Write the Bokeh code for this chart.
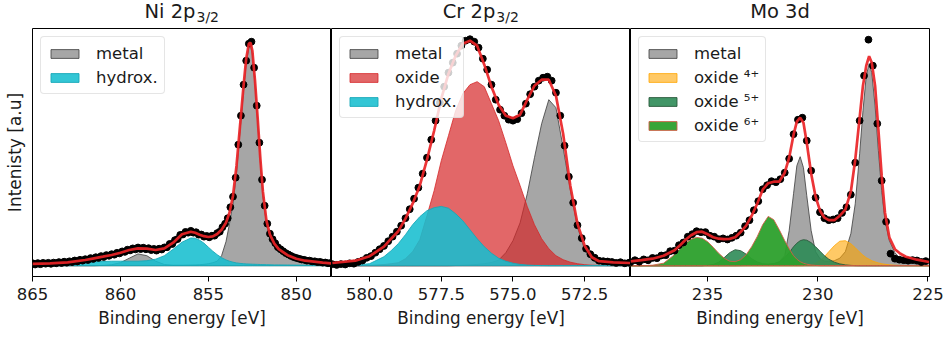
from bokeh.plotting import figure
from bokeh.layouts import row, column
from bokeh.models import (Range1d, FixedTicker, PrintfTickFormatter, Legend,
                          LegendItem, Label)
from bokeh.embed import file_html
from bokeh.resources import INLINE

FONT = "DejaVu Sans"

# ---------------- Ni 2p3/2 ----------------
ni_ticks = [865, 860, 855, 850]
ni_be = [865, 864, 863, 862, 861.5, 861, 860.5, 860, 859.5, 859, 858.5, 858,
         857.5, 857, 856.5, 856, 855.75, 855.5, 855.25, 855, 854.75, 854.5,
         854.25, 854, 853.8, 853.6, 853.4, 853.2, 853, 852.85, 852.7, 852.6,
         852.5, 852.35, 852.2, 852.05, 851.9, 851.7, 851.5, 851.25, 851,
         850.5, 850, 849.5, 849, 848.5, 848]
ni_metal = [0, 0, 0, 0, 0, 0.3, 1, 3, 7.5, 11.8, 10, 4.5,
            1.2, 0.5, 0.5, 0.7, 0.8, 1, 1.4, 2, 3, 4.5,
            10, 24, 42, 62, 93, 135, 175, 203, 218, 220,
            212, 182, 145, 105, 70, 42, 28, 19.5, 14,
            8.5, 5.5, 3.8, 2.8, 2, 1.5]
ni_hydrox = [1.5, 2, 2.8, 3.5, 4, 4.2, 4.5, 4.5, 4.5, 4.5, 5, 6.5,
             10, 16.5, 23.5, 27.7, 27.5, 25.5, 22.5, 18.5, 14.5, 11,
             8, 5.8, 4.5, 3.5, 2.8, 2.3, 2, 1.8, 1.7, 1.6,
             1.5, 1.4, 1.3, 1.2, 1.1, 1, 0.9, 0.8, 0.8,
             0.7, 0.6, 0.5, 0.5, 0.4, 0.4]
ni_env = [1.8, 2.3, 3.4, 5.7, 7.4, 9, 10.7, 13, 15.7, 17.4, 17, 15.7,
          17.4, 23, 31.5, 34, 33, 31, 29.5, 28.7, 29.3, 31.7,
          36, 43, 53, 70, 100, 140, 180, 207, 222, 223,
          215, 185, 148, 108, 74, 45, 31, 22, 16.5,
          10.5, 7, 5, 4, 3, 2.2]
ni_dot_start, ni_dot_step = 865.0, 0.15
ni_dots = [2.5, 1.2, 2.6, 1.5, 2.8, 2.0, 2.9, 1.9, 3.1, 2.4,
           3.6, 2.7, 4.0, 3.0, 4.4, 3.6, 5.2, 4.2, 5.9, 5.0,
           6.5, 5.7, 7.6, 6.8, 8.5, 7.8, 9.6, 8.7, 10.6, 9.9,
           11.5, 11.0, 12.9, 12.3, 14.3, 13.8, 16.0, 15.3, 17.3, 16.3,
           18.2, 16.6, 18.0, 16.4, 17.5, 15.6, 16.8, 15.1, 17.0, 16.2,
           18.3, 18.4, 21.8, 21.7, 25.6, 26.6, 30.8, 31.2, 33.8, 33.0,
           34.9, 33.0, 33.5, 31.0, 31.2, 29.0, 29.8, 28.4, 30.0, 30.0,
           32.6, 34.0, 38.5, 42.0, 47.5, 58.5, 69, 88, 121, 150,
           181, 205, 222, 224, 198, 160, 123, 86, 60, 42,
           32, 26.5, 22.5, 18.5, 16.5, 14.5, 12.6, 11.2, 9.8, 8.6,
           7.8, 7.0, 6.2, 5.9, 5.0, 5.1, 4.3, 4.4, 3.6, 3.8,
           3.0, 3.2, 2.4, 2.7]

# ---------------- Cr 2p3/2 ----------------
cr_ticks = [580.0, 577.5, 575.0, 572.5]
cr_be = [581.3, 580.5, 580, 579.5, 579.25, 579, 578.75, 578.5, 578.25, 578,
         577.75, 577.5, 577.25, 577, 576.75, 576.5, 576.25, 576, 575.75,
         575.5, 575.25, 575, 574.75, 574.5, 574.25, 574, 573.75, 573.5,
         573.25, 573, 572.75, 572.5, 572.25, 572, 571.5, 570.9]
cr_metal = [0, 0, 0, 0, 0, 0, 0, 0, 0, 0,
            0, 0, 0, 0.2, 0.4, 0.8, 1.3, 2, 3.2,
            5.5, 13, 25, 43, 72, 108, 142, 166, 158,
            118, 76, 39, 16, 5.5, 2, 0.5, 0.1]
cr_oxide = [0, 0, 0.3, 1.2, 2, 3, 7, 14, 26, 50,
            75, 105, 130, 155, 172, 181, 184, 179, 162,
            145, 123, 100, 80, 59, 41, 27, 17, 10,
            6, 3.5, 2, 1, 0.5, 0.3, 0, 0]
cr_hydrox = [0, 0.5, 2, 9, 15, 22, 31, 41, 49, 55,
             58, 59.3, 57.5, 52, 45, 36, 27, 19, 12.5,
             7.5, 4.5, 2.5, 1.3, 0.6, 0.3, 0.1, 0, 0,
             0, 0, 0, 0, 0, 0, 0, 0]
cr_env = [2.7, 5, 9.5, 19, 27, 34.5, 47, 62, 80, 106,
          135, 167, 192, 210, 222, 225, 220, 201, 179,
          161, 150, 147.5, 151, 166, 180, 186, 186, 170,
          132, 80, 42, 20, 8.5, 4.5, 3.3, 2.7]
cr_dot_start, cr_dot_step = 581.3, 0.15
cr_dots = [1.5, 0.8, 1.6, 1.2, 2.4, 2.0, 3.8, 5.2, 7.9, 9.6,
           13.0, 16.5, 19.8, 24.5, 29.0, 34.0, 40.0, 47.5, 56.5, 67,
           78, 92, 108, 126, 145, 163, 179, 193, 203, 212,
           220, 225, 226.5, 224, 218, 207, 196, 181, 166, 156,
           150, 146, 145, 146.5, 152.5, 162, 171.5, 179, 185, 188,
           189, 185, 173, 150, 120, 89, 63, 40.5, 27.5, 17,
           11.5, 8, 5, 4.5, 4.2, 3.7, 2.8, 3.5, 2.4, 3.0]

# ---------------- Mo 3d ----------------
mo_ticks = [235, 230, 225]
mo_be = [238.5, 238, 237.5, 237, 236.5, 236.25, 236, 235.75, 235.5, 235.25,
         235, 234.75, 234.5, 234.25, 234, 233.75, 233.5, 233.25, 233, 232.75,
         232.5, 232.25, 232, 231.75, 231.5, 231.3, 231.1, 230.95, 230.8,
         230.65, 230.5, 230.3, 230.1, 229.9, 229.7, 229.5, 229.25, 229,
         228.75, 228.5, 228.3, 228.1, 227.95, 227.8, 227.67, 227.55, 227.4,
         227.25, 227.1, 226.95, 226.75, 226.5, 226.25, 226, 225.5, 224.95]
mo_metal = [0, 0, 0, 0, 0, 0, 0, 0, 0, 0,
            0, 0, 0, 0, 0, 0, 0.1, 0.2, 0.3, 0.5,
            0.8, 1.2, 2, 4, 10, 35, 72, 100, 109,
            98, 70, 35, 14, 7, 4.5, 4, 5, 7.5,
            14, 32, 62, 112, 155, 190, 202, 193, 160,
            115, 75, 45, 25, 13, 7, 4, 1.5, 0.5]
mo_ox4 = [0, 0, 0, 0, 0, 0, 0, 0, 0, 0,
          0, 0, 0, 0, 0, 0, 0, 0, 0, 0,
          0, 0, 0, 0, 0, 0, 0, 0, 0,
          0, 0.5, 1, 2.5, 5, 9, 14, 20, 24.5,
          25, 22, 18, 13.5, 10.5, 8, 6.5, 5, 3.8,
          2.8, 2, 1.4, 0.9, 0.5, 0.3, 0.2, 0.1, 0]
mo_ox5 = [0, 0, 0, 0, 0, 0, 0, 0, 0, 0,
          0.4, 1.2, 3.5, 8, 13, 16, 15, 11.5, 7, 3.8,
          2, 1.6, 2, 3.5, 8, 13, 19, 22.5, 25,
          26, 25.5, 23, 19, 14.5, 10, 6.5, 3.5, 1.8,
          0.8, 0.3, 0.1, 0, 0, 0, 0, 0, 0,
          0, 0, 0, 0, 0, 0, 0, 0, 0]
mo_ox6 = [0, 0, 0.5, 2.5, 11, 17, 22.5, 26.5, 28.3, 27.5,
          24, 18.5, 12.5, 7.5, 4.5, 4, 6, 11, 19, 29,
          41, 49.3, 46, 36, 25, 17, 10, 6.5, 4,
          2.5, 1.5, 0.7, 0.3, 0, 0, 0, 0, 0,
          0, 0, 0, 0, 0, 0, 0, 0, 0,
          0, 0, 0, 0, 0, 0, 0, 0, 0]
mo_env = [4.3, 5.5, 7, 10, 15.5, 20.5, 26, 30.5, 33.5, 34,
          31.5, 28.5, 27, 26.5, 26.8, 28.5, 33.7, 40, 50, 62,
          76, 82.5, 84, 84, 93, 108, 131, 144, 148,
          143, 123, 92, 69, 55, 48, 45.5, 45.5, 50,
          56, 74, 106, 148, 180, 200, 209.5, 203, 180,
          136, 90, 53, 28, 16.5, 12, 9, 6, 3.7]
mo_dot_start, mo_dot_step = 238.5, 0.2
mo_dots = [3.5, 5.5, 4.0, 6.3, 5.4, 7.8, 7.5, 10.2, 10.5, 14.5,
           15.0, 20.5, 23.2, 29.0, 31.5, 34.5, 33.5, 33.6, 30.0, 29.0,
           26.5, 27.3, 26.2, 27.9, 30.0, 33.0, 39.5, 45.5, 55.5, 64.5,
           76.5, 80.5, 84.5, 83.5, 86.5, 93, 107, 131.5, 146, 148,
           125, 95, 68, 53.5, 47.5, 45.5, 46.2, 47.5, 52.8, 58.5,
           71, 103, 145, 190, 226, 200, 142, 85, 44, 12,
           7, 6, 5.5, 5.0, 5.6, 5.2, 3.7, 4.6]

for a, b in [(ni_be, ni_metal), (ni_be, ni_hydrox), (ni_be, ni_env),
             (cr_be, cr_metal), (cr_be, cr_oxide), (cr_be, cr_hydrox), (cr_be, cr_env),
             (mo_be, mo_metal), (mo_be, mo_ox4), (mo_be, mo_ox5), (mo_be, mo_ox6), (mo_be, mo_env)]:
    assert len(a) == len(b), (len(a), len(b))

Y_LO, Y_HI = -10.8, 237.2
FRAME_W, FRAME_H = 299, 248
TITLE_H = 27
TOP, BOTTOM = 1, 61

STYLE = {
    "metal": dict(fill_color="#808080", fill_alpha=0.7, line_color="#3c3c3c", line_alpha=0.8),
    "hydrox.": dict(fill_color="#17becf", fill_alpha=0.88, line_color="#17a8b8", line_alpha=0.9),
    "oxide": dict(fill_color="#d62728", fill_alpha=0.7, line_color="#d62728", line_alpha=0.8),
    "oxide ⁴⁺": dict(fill_color="#ffa500", fill_alpha=0.6, line_color="#ffa500", line_alpha=0.8),
    "oxide ⁵⁺": dict(fill_color="#2e8b57", fill_alpha=0.9, line_color="#2a5a3c", line_alpha=0.9),
    "oxide ⁶⁺": dict(fill_color="#2ca02c", fill_alpha=0.95, line_color="#cf5f45", line_alpha=0.9),
}


def title_strip(width, pieces):
    """Small frameless figure holding a panel title (main text + subscript)."""
    t = figure(width=width, height=TITLE_H, x_range=Range1d(0, width),
               y_range=Range1d(0, TITLE_H), output_backend="svg",
               toolbar_location=None, x_axis_location=None, y_axis_location=None,
               min_border=0)
    t.outline_line_color = None
    t.xgrid.visible = False
    t.ygrid.visible = False
    t.background_fill_color = "white"
    t.border_fill_color = "white"
    for text, size, x, y, align in pieces:
        t.add_layout(Label(x=x, y=y, text=text, text_font=FONT, text_font_size=size,
                           text_baseline="alphabetic", text_align=align,
                           text_color="#1a1a1a"))
    return t


def panel(be, comps, env, dot_start, dot_step, dots, xr, ticks, fmt,
          left, right, ylabel=None):
    p = figure(width=left + FRAME_W + right, height=TOP + FRAME_H + BOTTOM,
               x_range=Range1d(*xr), y_range=Range1d(Y_LO, Y_HI),
               output_backend="svg", toolbar_location=None,
               y_axis_location="left" if ylabel else None,
               min_border_left=left, min_border_right=right,
               min_border_top=TOP, min_border_bottom=BOTTOM)
    p.background_fill_color = "white"
    p.border_fill_color = "white"
    p.outline_line_color = "black"
    p.outline_line_width = 1
    p.xgrid.visible = False
    p.ygrid.visible = False

    xa = p.xaxis[0]
    xa.ticker = FixedTicker(ticks=ticks)
    xa.formatter = PrintfTickFormatter(format=fmt)
    xa.minor_tick_line_color = None
    xa.major_tick_in = 0
    xa.major_tick_out = 5
    xa.major_tick_line_color = "black"
    xa.axis_line_color = "black"
    xa.major_label_text_font = FONT
    xa.major_label_text_font_size = "16.5px"
    xa.major_label_text_color = "#1a1a1a"
    xa.major_label_standoff = 6
    xa.axis_label = "Binding energy [eV]"
    xa.axis_label_text_font = FONT
    xa.axis_label_text_font_size = "16.8px"
    xa.axis_label_text_font_style = "normal"
    xa.axis_label_text_color = "#1a1a1a"
    xa.axis_label_standoff = 5

    if ylabel:
        ya = p.yaxis[0]
        ya.ticker = FixedTicker(ticks=[])
        ya.major_tick_in = 0
        ya.major_tick_out = 0
        ya.minor_tick_line_color = None
        ya.major_label_text_font_size = "0px"
        ya.axis_line_color = None
        ya.axis_label = ylabel
        ya.axis_label_text_font = FONT
        ya.axis_label_text_font_size = "17px"
        ya.axis_label_text_font_style = "normal"
        ya.axis_label_text_color = "#1a1a1a"
        ya.axis_label_standoff = 8

    items = []
    for name, vals in comps:
        xs = list(be) + list(be)[::-1]
        ys = list(vals) + [0.0] * len(be)
        r = p.patch(xs, ys, line_width=1, **STYLE[name])
        items.append(LegendItem(label=name, renderers=[r]))

    dx = [dot_start - dot_step * i for i in range(len(dots))]
    p.scatter(dx, dots, size=6.8, color="black")
    p.line(be, env, line_color="#ea2326", line_alpha=0.92, line_width=2.7)

    lg = Legend(items=items, location="top_left")
    lg.label_text_font = FONT
    lg.label_text_font_size = "16.5px"
    lg.label_text_color = "#1a1a1a"
    lg.glyph_width = 35
    lg.glyph_height = 11
    lg.label_standoff = 14
    lg.label_height = 20
    lg.padding = 6
    lg.spacing = 4
    lg.margin = 8
    lg.border_line_color = "#cccccc"
    lg.border_line_width = 1
    lg.background_fill_alpha = 0.8
    try:
        lg.border_radius = 4
    except Exception:
        pass
    p.add_layout(lg)
    return p


p1 = panel(ni_be, [("metal", ni_metal), ("hydrox.", ni_hydrox)], ni_env,
           ni_dot_start, ni_dot_step, ni_dots, (865, 848), ni_ticks, "%d",
           32, 0, ylabel="Intenisty [a.u]")
p2 = panel(cr_be, [("metal", cr_metal), ("oxide", cr_oxide), ("hydrox.", cr_hydrox)], cr_env,
           cr_dot_start, cr_dot_step, cr_dots, (581.33, 570.9), cr_ticks, "%.1f",
           0, 0)
p3 = panel(mo_be, [("metal", mo_metal), ("oxide ⁴⁺", mo_ox4), ("oxide ⁵⁺", mo_ox5),
                   ("oxide ⁶⁺", mo_ox6)], mo_env,
           mo_dot_start, mo_dot_step, mo_dots, (238.5, 224.93), mo_ticks, "%d",
           0, 21)

t1 = title_strip(32 + FRAME_W, [("Ni 2p", "19.5px", 144, 15.8, "left"),
                                ("3/2", "14px", 196, 10.1, "left")])
t2 = title_strip(FRAME_W, [("Cr 2p", "19.5px", 111.2, 15.8, "left"),
                           ("3/2", "14px", 164.8, 10.1, "left")])
t3 = title_strip(FRAME_W + 21, [("Mo 3d", "19.5px", 149.5, 15.8, "center")])

layout = column(row(t1, t2, t3), row(p1, p2, p3))
open("out.html", "w").write(file_html(layout, INLINE))
